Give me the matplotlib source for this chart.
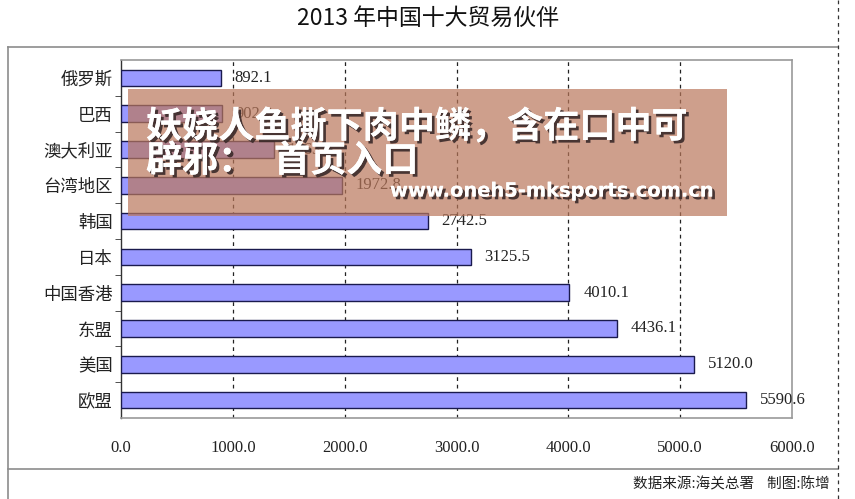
import matplotlib
matplotlib.use("Agg")
import matplotlib.pyplot as plt
import matplotlib.patheffects as pe
from matplotlib.patches import Rectangle
from matplotlib.lines import Line2D
from matplotlib.ticker import FixedLocator

plt.rcParams['font.family'] = ['Noto Sans CJK SC', 'DejaVu Sans']

categories = ["俄罗斯", "巴西", "澳大利亚", "台湾地区", "韩国", "日本", "中国香港", "东盟", "美国", "欧盟"]
values = [892.1, 902.8, 1363.8, 1972.8, 2742.5, 3125.5, 4010.1, 4436.1, 5120.0, 5590.6]
xticks = [0, 1000, 2000, 3000, 4000, 5000, 6000]
title = "2013 年中国十大贸易伙伴"
footnote = "数据来源:海关总署    制图:陈增"

W, H = 855, 499
fig = plt.figure(figsize=(W / 100, H / 100), dpi=100)
fig.patch.set_facecolor("white")

def fx(px):
    return px / W

def fy(py):
    return 1 - py / H

# outer frame lines
gray = "#8c8c8c"
fig.add_artist(Line2D([fx(8), fx(8)], [fy(47), fy(499)], color=gray, lw=1.2))
fig.add_artist(Line2D([fx(8), fx(838)], [fy(47), fy(47)], color=gray, lw=1.2))
fig.add_artist(Line2D([fx(8), fx(838)], [fy(469), fy(469)], color=gray, lw=1.2))
fig.add_artist(Line2D([fx(838), fx(838)], [fy(0), fy(499)], color="#333333", lw=0.9, ls=(0, (3, 3))))

left, right, top, bottom = 121, 792, 60, 418
ax = fig.add_axes([fx(left), fy(bottom), fx(right - left), (bottom - top) / H])

ypos = list(range(len(categories)))
ax.barh(ypos, values, height=0.46, color="#9999FF", edgecolor="#1a1a4d", linewidth=1.0, zorder=3)
ax.set_xlim(0, 6000)
ax.set_ylim(len(categories) - 0.5, -0.5)

for y, v in zip(ypos, values):
    ax.annotate(f"{v:.1f}", xy=(v, y), xytext=(10, 0), textcoords="offset points",
                va="center", ha="left", fontsize=12, family="Liberation Serif", color="#222222", zorder=4)

for xv in xticks[1:-1]:
    ax.axvline(xv, color="#222222", lw=0.9, ls=(0, (3, 3)), zorder=1)

ax.set_xticks(xticks)
ax.set_xticklabels([f"{t:.1f}" for t in xticks], family="Liberation Serif", fontsize=12, color="#222222")
ax.tick_params(axis="x", length=0, pad=16)

ax.set_yticks(ypos)
ax.set_yticklabels(categories, fontsize=12.5, color="#222222")
ax.tick_params(axis="y", which="major", length=0, pad=6)
ax.yaxis.set_minor_locator(FixedLocator([i + 0.5 for i in range(len(categories) - 1)]))
ax.tick_params(axis="y", which="minor", length=4, color="#333333", direction="out")

for s in ["top", "right", "bottom"]:
    ax.spines[s].set_color("#999999")
    ax.spines[s].set_linewidth(1.2)
ax.spines["left"].set_color("#333333")
ax.spines["left"].set_linewidth(1.0)

fig.text(fx(428), fy(18), title, ha="center", va="center", fontsize=16.5, color="#111111")
fig.text(fx(830), fy(484), footnote, ha="right", va="center", fontsize=10.5, color="#222222")

# watermark overlay
fig.add_artist(Rectangle((fx(128), fy(216)), fx(727 - 128), (216 - 89) / H,
                         facecolor=(186 / 255, 119 / 255, 91 / 255), alpha=0.7, edgecolor="none", zorder=10))
shadow = [pe.withSimplePatchShadow(offset=(2, -2), shadow_rgbFace="#3a2a2a", alpha=0.9), pe.Normal()]
fig.text(fx(146), fy(127), "妖娆人鱼撕下肉中鳞，含在口中可", ha="left", va="center", fontsize=26,
         fontweight="heavy", color="white", zorder=11, path_effects=shadow)
fig.text(fx(146), fy(161), "辟邪：", ha="left", va="center", fontsize=26,
         fontweight="heavy", color="white", zorder=11, path_effects=shadow)
fig.text(fx(274), fy(161), "首页入口", ha="left", va="center", fontsize=26,
         fontweight="heavy", color="white", zorder=11, path_effects=shadow)
fig.text(fx(390), fy(191), "www.oneh5-mksports.com.cn", ha="left", va="center", fontsize=14,
         fontweight="bold", family="DejaVu Sans", color="white", zorder=11, path_effects=shadow)

fig.savefig("out.png", dpi=100)
